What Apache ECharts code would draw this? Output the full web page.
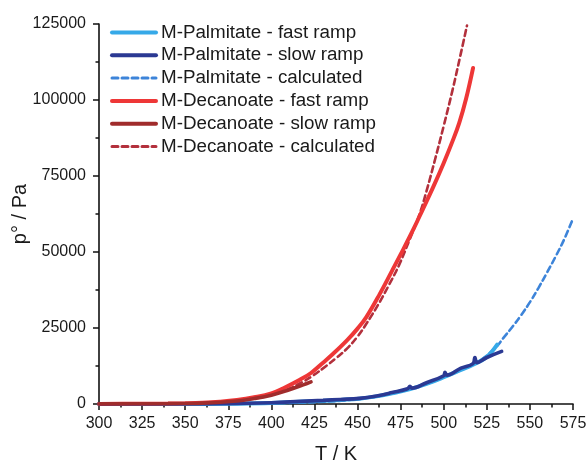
<!DOCTYPE html>
<html>
<head>
<meta charset="utf-8">
<script src="https://cdn.jsdelivr.net/npm/echarts@6/dist/echarts.min.js"></script>
<style>
  html, body { margin: 0; padding: 0; background: #fff; }
  #chart { width: 588px; height: 462px; }
</style>
</head>
<body>
<div id="chart"></div>
<script>
// 数据
const palFastT = [300, 350, 375, 400, 416, 430, 440, 451, 461, 470, 480, 490, 500, 510, 517, 525, 531];
const palFastP = [0, 20, 80, 300, 750, 1050, 1350, 1750, 2500, 3500, 4800, 6600, 8800, 11200, 12900, 15500, 19500];

const palSlowT = [300, 350, 375, 400, 417, 430, 440, 451, 461, 470, 479, 480.4, 481.5, 490, 500, 500.7, 501.8, 510, 517, 518.1, 519.2, 525, 533.6];
const palSlowP = [0, 30, 100, 420, 860, 1200, 1500, 1850, 2650, 3750, 5000, 5800, 5200, 7000, 9300, 10400, 9500, 11800, 13300, 15300, 13600, 15300, 17300];

const palCalcT = [300, 400, 450, 480, 500, 520, 530, 535, 540, 545, 550, 555, 560, 565, 570, 575];
const palCalcP = [0, 300, 1600, 4900, 8800, 14000, 18500, 22000, 25500, 29300, 33500, 38200, 43300, 48600, 54300, 61000];

const decFastT = [300, 320, 340, 350, 360, 370, 380, 390, 400, 407, 416, 423, 430, 436, 444, 450, 455, 463, 470, 475, 482, 488, 494, 500, 505, 509, 513, 517];
const decFastP = [40, 80, 160, 250, 420, 750, 1300, 2200, 3500, 5200, 7800, 10200, 13600, 16600, 21000, 24800, 28500, 36300, 43800, 49200, 57000, 64200, 71500, 79300, 86300, 92500, 100500, 110500];

const decSlowT = [300, 320, 340, 360, 380, 390, 400, 410, 418, 423];
const decSlowP = [30, 60, 120, 300, 1000, 1800, 2900, 4600, 6200, 7300];

const decCalcT = [300, 340, 370, 390, 400, 410, 418, 424, 432, 438, 444, 450, 455, 462, 468, 474, 480, 486, 490, 495, 500, 505, 510, 513.5];
const decCalcP = [20, 100, 600, 1800, 3000, 5000, 7200, 9300, 12600, 15300, 18300, 22200, 26300, 32700, 38900, 45600, 53800, 62500, 70000, 80500, 91500, 103000, 115500, 124500];

const legendNames = [
    'M-Palmitate - fast ramp',
    'M-Palmitate - slow ramp',
    'M-Palmitate - calculated',
    'M-Decanoate - fast ramp',
    'M-Decanoate - slow ramp',
    'M-Decanoate - calculated'
];

const xTicks = { min: 300, max: 575, step: 25 };
const yTicks = { min: 0, max: 125000, step: 25000 };

function pairs(xs, ys) {
    return xs.map((x, i) => [x, ys[i]]);
}

const FONT = '"Liberation Sans", Arial, sans-serif';
const chart = echarts.init(document.getElementById('chart'));

function lineSeries(name, xs, ys, color, width, dashed, z) {
    return {
        name: name,
        type: 'line',
        data: pairs(xs, ys),
        symbol: 'none',
        smooth: 0.4,
        z: z,
        animation: false,
        lineStyle: {
            color: color,
            width: width,
            type: dashed ? [6, 4] : 'solid',
            cap: 'round'
        },
        itemStyle: { color: color }
    };
}

const axisCommon = {
    axisLine: { show: true, lineStyle: { color: '#111', width: 1.6 } },
    axisTick: { show: true, inside: false, length: 6, lineStyle: { color: '#111', width: 1.5 } },
    minorTick: { show: true, splitNumber: 2, length: 3.5, lineStyle: { color: '#111', width: 1.5 } },
    splitLine: { show: false },
    axisLabel: { color: '#1a1a1a', fontSize: 16, fontFamily: FONT, formatter: v => String(v) },
    nameLocation: 'middle',
    nameMoveOverlap: false,
    nameTextStyle: { color: '#1a1a1a', fontSize: 20, fontFamily: FONT }
};

// 图例：实线粗一些，虚线细一些
const legendData = legendNames.map(n => ({
    name: n,
    lineStyle: { width: n.includes('calculated') ? 3 : 4 }
}));

chart.setOption({
    backgroundColor: '#ffffff',
    grid: { left: 99, right: 15, top: 24, bottom: 58, containLabel: false, outerBoundsMode: 'none' },
    legend: {
        data: legendData,
        orient: 'vertical',
        left: 110,
        top: 23,
        padding: 0,
        itemWidth: 44,
        itemHeight: 14,
        itemGap: 3.8,
        itemStyle: { opacity: 0 },
        textStyle: { color: '#1a1a1a', fontSize: 18.8, fontFamily: FONT, lineHeight: 19 }
    },
    xAxis: {
        ...axisCommon,
        type: 'value',
        min: xTicks.min,
        max: xTicks.max,
        interval: xTicks.step,
        name: 'T / K',
        nameGap: 40,
        axisLabel: { ...axisCommon.axisLabel, margin: 12 }
    },
    yAxis: {
        ...axisCommon,
        type: 'value',
        min: yTicks.min,
        max: yTicks.max,
        interval: yTicks.step,
        name: 'p° / Pa',
        nameGap: 69,
        axisLabel: { ...axisCommon.axisLabel, margin: 13 }
    },
    series: [
        lineSeries(legendNames[2], palCalcT, palCalcP, '#3d84d9', 2.6, true, 1),
        lineSeries(legendNames[5], decCalcT, decCalcP, '#b3303c', 2.6, true, 1),
        lineSeries(legendNames[0], palFastT, palFastP, '#36a9e8', 4, false, 2),
        lineSeries(legendNames[3], decFastT, decFastP, '#ee3737', 4, false, 2),
        lineSeries(legendNames[1], palSlowT, palSlowP, '#2b3993', 3.6, false, 3),
        lineSeries(legendNames[4], decSlowT, decSlowP, '#a02c2c', 3.6, false, 3)
    ]
});
</script>
</body>
</html>
